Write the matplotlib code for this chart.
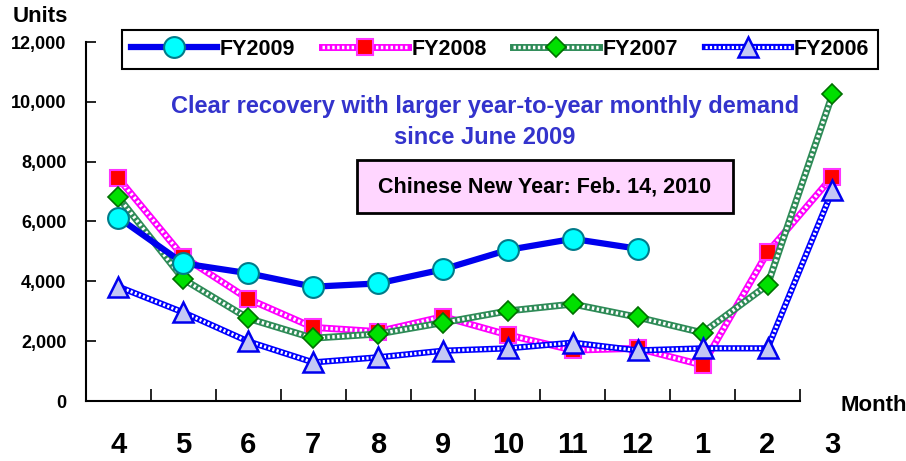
import matplotlib.pyplot as plt
from matplotlib.patches import Rectangle
from matplotlib.lines import Line2D

months = ["4", "5", "6", "7", "8", "9", "10", "11", "12", "1", "2", "3"]
fy2009 = [6130, 4600, 4270, 3820, 3930, 4400, 5050, 5420, 5090]
fy2008 = [7440, 4820, 3410, 2460, 2320, 2820, 2210, 1700, 1760, 1200, 4970, 7500]
fy2007 = [6810, 4070, 2760, 2100, 2240, 2620, 3010, 3240, 2800, 2280, 3880, 10250]
fy2006 = [3820, 2960, 1990, 1290, 1460, 1680, 1760, 1950, 1690, 1760, 1760, 7040]
yticks = [0, 2000, 4000, 6000, 8000, 10000, 12000]

plt.rcParams['font.family'] = ['Liberation Sans Narrow', 'Liberation Sans', 'DejaVu Sans']
plt.rcParams['font.weight'] = 'bold'

W, H = 906, 461
fig = plt.figure(figsize=(W / 100, H / 100), dpi=100)
ax = fig.add_axes([86 / W, 1 - 401 / H, 714 / W, 359 / H])

x = list(range(len(months)))


def hatched(xs, ys, color, lw, z, **mk):
    # solid line, white dotted overlay for the halftone look, then the markers
    ax.plot(xs, ys, color=color, lw=lw, clip_on=False, zorder=z, solid_capstyle='butt')
    ax.plot(xs, ys, color='white', lw=lw * 0.5, ls=(0, (0.7, 0.7)), clip_on=False, zorder=z + 0.1)
    ax.plot(xs, ys, ls='none', clip_on=False, zorder=z + 0.2, **mk)
    h_line = Line2D([], [], color=color, lw=lw)
    h_dots = Line2D([], [], color='white', lw=lw * 0.5, ls=(0, (0.7, 0.7)))
    h_mk = Line2D([], [], ls='none', **mk)
    return (h_line, h_dots, h_mk)


h08 = hatched(x, fy2008, '#ff00ff', 5, 3, marker='s', ms=12, mfc='red', mec='#ff33ff', mew=1.5)
h07 = hatched(x, fy2007, '#2e8b57', 5, 4, marker='D', ms=10, mfc='#00e000', mec='#007000', mew=1.2)
h06 = hatched(x, fy2006, '#0000ff', 4.5, 5, marker='^', ms=14, mfc='#c4c8f4', mec='#0000ee', mew=1.8)
l09, = ax.plot(x[:len(fy2009)], fy2009, color='#0000ee', lw=4.5, marker='o', ms=15,
               mfc='#00ffff', mec='#007b8a', mew=1.5, clip_on=False, zorder=6)

ax.set_xlim(-0.5, 10.5)
ax.set_ylim(0, 12000)
ax.spines[['top', 'right']].set_visible(False)
ax.spines[['left', 'bottom']].set_linewidth(1.5)

ax.set_xticks([i + 0.5 for i in range(11)])
ax.set_xticklabels([])
ax.tick_params(axis='x', direction='in', length=9, width=1.2)
for i, m in enumerate(months):
    ax.text(i, -0.123, m, transform=ax.get_xaxis_transform(), ha='center', va='center',
            fontsize=21, fontweight='bold')

ax.set_yticks(yticks)
ax.set_yticklabels([f"{v:,}" for v in yticks], fontsize=13, fontweight='bold')
ax.tick_params(axis='y', direction='in', length=7, width=1.2, pad=14)

fig.text(13 / W, 1 - 17 / H, "Units", ha='left', va='center', fontsize=16, fontweight='bold')
fig.text(840 / W, 1 - 405 / H, "Month", ha='left', va='center', fontsize=16, fontweight='bold')

fig.text(485 / W, 1 - 107 / H, "Clear recovery with larger year-to-year monthly demand",
         ha='center', va='center', fontsize=17, fontweight='bold', color='#3333cc')
fig.text(485 / W, 1 - 138 / H, "since June 2009",
         ha='center', va='center', fontsize=17, fontweight='bold', color='#3333cc')

fig.patches.append(Rectangle((357 / W, 1 - 213 / H), 376 / W, 53 / H, transform=fig.transFigure,
                             facecolor='#ffd6ff', edgecolor='black', lw=2))
fig.text(545 / W, 1 - 187 / H, "Chinese New Year: Feb. 14, 2010",
         ha='center', va='center', fontsize=15.5, fontweight='bold')

leg = fig.legend([l09, h08, h07, h06], ["FY2009", "FY2008", "FY2007", "FY2006"],
                 loc='center', bbox_to_anchor=(122 / W, 1 - 77 / H, 756 / W, 55 / H),
                 mode='expand', ncol=4, fancybox=False, edgecolor='black',
                 handlelength=4.0, handletextpad=0.15, fontsize=15.5, borderaxespad=0,
                 framealpha=1)
leg.get_frame().set_linewidth(1.5)

fig.savefig("out.png", dpi=100)
